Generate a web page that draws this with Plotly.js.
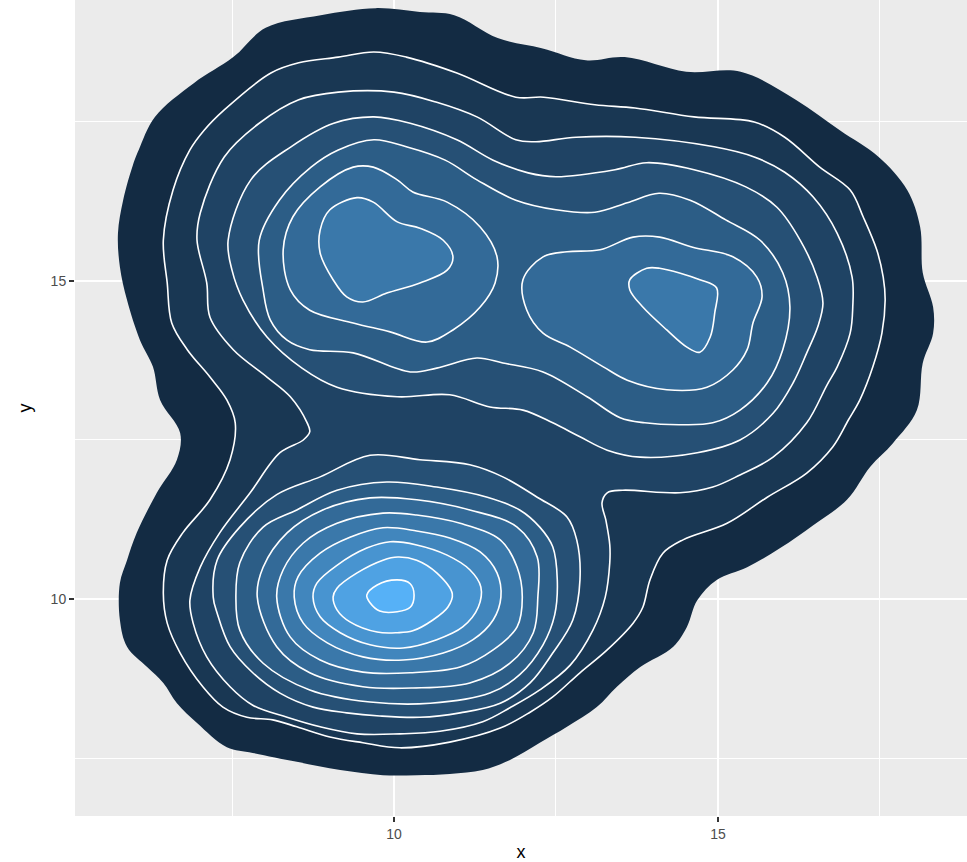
<!DOCTYPE html>
<html><head><meta charset="utf-8">
<script src="https://cdn.plot.ly/plotly-3.0.1.min.js"></script>
<style>html,body{margin:0;padding:0;background:#ffffff}</style>
</head><body><div id="chart" style="width:967px;height:862px"></div>
<script>
// ---- Contour paths of the 2-D density (data units) ----
// level 0 = outermost region ... level 10 = highest density
const b0x = [9.72,10.40,10.93,11.60,12.28,12.96,13.56,14.51,15.35,16.20,16.88,17.48,17.92,18.12,18.16,18.32,18.32,18.16,18.07,17.70,17.35,16.99,16.47,15.96,15.45,14.98,14.68,14.52,14.31,13.80,13.44,13.13,12.67,12.25,11.79,11.37,10.86,10.35,9.83,9.17,8.50,7.82,7.42,6.96,6.65,6.44,6.19,5.88,5.77,5.77,5.88,6.03,6.34,6.65,6.70,6.39,6.28,6.08,5.88,5.77,5.74,5.82,5.97,6.06,6.31,6.91,7.52,8.02,8.87];
const b0y = [19.29,19.23,19.18,18.82,18.66,18.47,18.52,18.29,18.29,17.85,17.37,16.95,16.43,15.85,15.13,14.59,14.18,13.71,12.97,12.45,12.08,11.56,11.16,10.80,10.50,10.30,9.98,9.56,9.25,8.93,8.62,8.30,7.99,7.74,7.47,7.31,7.25,7.23,7.23,7.31,7.44,7.58,7.67,8.05,8.36,8.68,8.93,9.25,9.67,10.25,10.61,11.04,11.67,12.19,12.61,13.13,13.65,14.07,14.70,15.22,15.75,16.27,16.82,17.06,17.58,18.11,18.52,18.98,19.18];

const b1x = [7.07,7.38,8.10,8.53,9.14,9.69,10.19,10.97,11.88,12.31,13.10,13.72,14.63,15.56,16.03,16.57,17.04,17.24,17.45,17.55,17.58,17.53,17.39,17.19,17.01,16.77,16.37,15.76,15.14,14.46,14.15,13.95,13.84,13.69,13.29,12.87,12.45,12.10,11.64,10.86,10.09,9.52,9.01,8.50,8.13,7.73,7.36,7.05,6.70,6.50,6.44,6.50,6.74,7.16,7.47,7.55,7.42,7.16,6.81,6.57,6.50,6.44,6.59,6.85];
const b1y = [17.37,17.69,18.27,18.43,18.52,18.60,18.52,18.27,17.89,17.89,17.77,17.72,17.58,17.50,17.26,16.79,16.43,16.01,15.49,15.06,14.70,14.18,13.65,13.13,12.81,12.39,11.98,11.60,11.19,10.93,10.72,10.30,9.87,9.62,9.20,8.84,8.46,8.22,7.97,7.75,7.66,7.74,7.83,7.99,8.10,8.14,8.30,8.62,9.15,9.62,10.09,10.61,11.04,11.56,12.19,12.77,13.13,13.49,13.92,14.34,14.97,15.64,16.43,17.06];

const b2x = [7.01,7.38,7.92,8.53,9.14,10.00,10.66,11.28,11.88,12.19,12.81,13.72,14.94,15.56,16.03,16.47,16.84,17.07,17.08,17.04,16.84,16.68,16.37,15.85,15.34,14.92,14.41,13.53,13.29,13.21,13.27,13.33,13.33,13.26,13.07,12.72,12.25,11.79,11.37,10.71,10.09,9.43,8.86,8.35,7.82,7.47,7.11,6.90,6.85,7.01,7.31,7.78,8.24,8.60,8.70,8.66,8.40,8.04,7.52,7.16,7.11,6.96];
const b2y = [16.07,16.95,17.48,17.85,17.97,17.97,17.81,17.58,17.22,17.19,17.26,17.26,17.11,16.95,16.71,16.32,15.75,15.06,14.59,14.18,13.65,13.36,12.77,12.23,11.95,11.76,11.67,11.71,11.67,11.51,11.24,10.85,10.57,10.03,9.51,8.96,8.57,8.29,8.07,7.92,7.88,7.88,7.99,8.14,8.33,8.62,9.09,9.62,9.98,10.50,11.04,11.67,12.30,12.50,12.63,12.77,13.18,13.49,13.92,14.43,14.97,15.64];

const b3ux = [7.44,7.79,8.41,9.07,9.69,10.25,10.97,11.53,12.07,12.50,13.41,13.90,14.63,15.43,15.91,16.27,16.53,16.62,16.54,16.37,16.16,15.85,15.34,14.68,13.80,13.29,12.87,12.45,11.99,11.48,10.86,10.05,9.12,8.58,8.04,7.67,7.50];
const b3uy = [15.64,16.59,17.11,17.48,17.58,17.48,17.22,16.90,16.70,16.64,16.75,16.86,16.75,16.48,16.16,15.64,15.06,14.65,14.28,13.87,13.40,12.92,12.50,12.30,12.23,12.34,12.55,12.77,12.97,13.02,13.21,13.18,13.33,13.63,14.12,14.70,15.17];

const b3lx = [7.21,7.27,7.62,8.19,8.86,9.63,10.40,11.17,11.68,12.21,12.67,12.82,12.87,12.76,12.45,12.10,11.64,11.02,10.40,9.78,9.27,8.75,8.24,7.82,7.47,7.27];
const b3ly = [10.03,10.61,11.13,11.64,11.92,12.26,12.19,12.11,11.92,11.60,11.29,10.93,10.30,9.67,9.15,8.68,8.36,8.21,8.14,8.16,8.21,8.30,8.52,8.84,9.25,9.78];

const b4ux = [7.92,8.23,8.72,9.14,9.69,10.19,10.79,11.28,11.88,12.50,13.10,13.60,14.09,14.57,15.12,15.65,16.00,16.11,16.00,15.76,15.34,14.92,14.41,13.87,13.49,12.98,12.30,11.68,11.28,10.66,10.25,9.37,8.70,8.35,8.09,7.98];
const b4uy = [15.64,16.27,16.79,17.06,17.22,17.11,16.90,16.59,16.27,16.12,16.08,16.23,16.38,16.27,15.96,15.64,15.13,14.59,13.92,13.40,12.97,12.77,12.74,12.77,12.85,13.18,13.57,13.71,13.79,13.63,13.57,13.87,13.92,14.07,14.39,14.86];

const b4lx = [7.56,7.62,7.98,8.50,9.12,9.89,10.66,11.44,11.94,12.25,12.45,12.52,12.48,12.30,11.94,11.48,10.56,9.63,8.70,7.98,7.62];
const b4ly = [10.03,10.57,11.13,11.40,11.71,11.84,11.76,11.60,11.40,11.13,10.82,10.30,9.75,9.28,8.81,8.52,8.36,8.38,8.57,8.99,9.51];

const b5ax = [8.29,8.44,8.86,9.37,9.68,10.05,10.29,10.82,11.33,11.59,11.56,11.33,10.91,10.51,9.94,9.37,8.70,8.40];
const b5ay = [15.49,16.01,16.48,16.79,16.79,16.59,16.40,16.24,15.85,15.38,14.97,14.59,14.23,14.04,14.20,14.34,14.54,14.86];

const b5bx = [11.99,12.30,12.67,13.18,13.69,14.10,14.61,15.23,15.60,15.68,15.54,15.45,15.23,14.83,14.21,13.60,13.23,12.72,12.30,12.05];
const b5by = [15.02,15.38,15.46,15.49,15.69,15.69,15.53,15.38,15.06,14.75,14.34,13.92,13.60,13.33,13.29,13.44,13.65,13.96,14.18,14.54];

const b5lx = [7.89,7.98,8.35,8.90,9.63,10.35,11.17,11.90,12.21,12.22,12.15,11.79,11.17,10.29,9.52,8.70,8.19];
const b5ly = [10.03,10.50,11.04,11.40,11.59,11.56,11.40,11.13,10.66,10.03,9.47,8.99,8.68,8.60,8.62,8.84,9.25];

const b6ax = [8.86,9.01,9.43,9.68,10.05,10.40,10.76,10.91,10.82,10.40,9.89,9.52,9.27,9.06,8.86];
const b6ay = [15.80,16.12,16.31,16.24,15.93,15.83,15.64,15.38,15.17,14.97,14.81,14.67,14.75,15.02,15.44];

const b6bx = [13.64,13.90,14.10,14.72,14.98,14.95,14.88,14.72,14.52,14.21,13.84,13.64];
const b6by = [15.02,15.20,15.20,15.02,14.89,14.50,14.12,13.88,13.96,14.23,14.59,14.86];

const b6lx = [8.19,8.29,8.60,9.12,9.83,10.35,11.02,11.64,11.90,11.98,11.90,11.53,11.02,10.25,9.52,8.86,8.40];
const b6ly = [10.03,10.46,10.88,11.19,11.35,11.32,11.19,10.93,10.50,10.03,9.56,9.20,8.93,8.84,8.85,9.04,9.40];

const b7x = [8.46,8.52,8.86,9.32,9.83,10.35,10.86,11.33,11.59,11.65,11.53,11.22,10.76,10.14,9.52,8.97,8.60];
const b7y = [10.03,10.35,10.72,10.97,11.12,11.07,10.96,10.74,10.41,10.03,9.67,9.36,9.15,9.04,9.09,9.31,9.62];

const b8x = [8.75,8.81,9.12,9.58,9.94,10.35,10.82,11.17,11.34,11.30,11.06,10.66,10.14,9.63,9.17,8.86];
const b8y = [10.03,10.25,10.53,10.80,10.90,10.85,10.69,10.46,10.19,9.87,9.56,9.36,9.23,9.28,9.47,9.72];

const b9x = [9.06,9.12,9.43,9.83,10.06,10.35,10.66,10.90,10.83,10.60,10.29,10.05,9.74,9.32,9.12];
const b9y = [10.03,10.17,10.41,10.61,10.66,10.61,10.41,10.08,9.87,9.67,9.50,9.47,9.48,9.64,9.83];

const b10x = [9.58,9.74,10.05,10.25,10.31,10.25,10.05,9.78,9.63];
const b10y = [10.06,10.22,10.30,10.24,10.06,9.87,9.80,9.81,9.94];

// level of each contour (drawing order: outer first)
const contourLevels = [0,1,2,3,3,4,4,5,5,5,6,6,6,7,8,9,10];
const contourXs = [b0x,b1x,b2x,b3ux,b3lx,b4ux,b4lx,b5ax,b5bx,b5lx,b6ax,b6bx,b6lx,b7x,b8x,b9x,b10x];
const contourYs = [b0y,b1y,b2y,b3uy,b3ly,b4uy,b4ly,b5ay,b5by,b5ly,b6ay,b6by,b6ly,b7y,b8y,b9y,b10y];

const tickVals = [10, 15];
const tickText = ['10', '15'];

// ---- styling ----
const palette = ['#132B43','#193753','#1F4364','#265075','#2C5D86','#336A98','#3A78AA','#4186BD','#4894D0','#4FA2E3','#56B1F7'];

const traces = contourXs.map((xs, i) => {
  const lvl = contourLevels[i];
  return {
    type: 'scatter', mode: 'lines',
    x: xs.concat([xs[0]]), y: contourYs[i].concat([contourYs[i][0]]),
    fill: 'toself', fillcolor: palette[lvl],
    line: {color: lvl === 0 ? 'rgba(255,255,255,0)' : '#FFFFFF', width: lvl === 0 ? 0 : 1.6, shape: 'spline', smoothing: 1},
    hoverinfo: 'skip', showlegend: false
  };
});

const axisCommon = {
  showgrid: true, gridcolor: '#FFFFFF', gridwidth: 2,
  zeroline: false, showline: false,
  ticks: 'outside', ticklen: 5, tickwidth: 1.5, tickcolor: '#333333',
  tickfont: {family: 'Liberation Sans, Arial, sans-serif', size: 14, color: '#4D4D4D'},
  tickmode: 'array', tickvals: tickVals, ticktext: tickText,
  minor: {tickmode: 'array', tickvals: [7.5, 12.5, 17.5], showgrid: true, gridcolor: '#FFFFFF', gridwidth: 1, ticks: ''}
};

const layout = {
  width: 967, height: 862,
  margin: {l: 75, r: 0, t: 0, b: 46, pad: 0},
  paper_bgcolor: '#FFFFFF', plot_bgcolor: '#EBEBEB',
  showlegend: false,
  xaxis: Object.assign({}, axisCommon, {
    range: [5.077, 18.843],
    title: {text: 'x', font: {family: 'Liberation Sans, Arial, sans-serif', size: 18, color: '#000000'}, standoff: 6}
  }),
  yaxis: Object.assign({}, axisCommon, {
    range: [6.588, 19.418],
    title: {text: 'y', font: {family: 'Liberation Sans, Arial, sans-serif', size: 18, color: '#000000'}, standoff: 14}
  })
};

Plotly.newPlot('chart', traces, layout, {displayModeBar: false, staticPlot: true});
</script>
</body></html>
